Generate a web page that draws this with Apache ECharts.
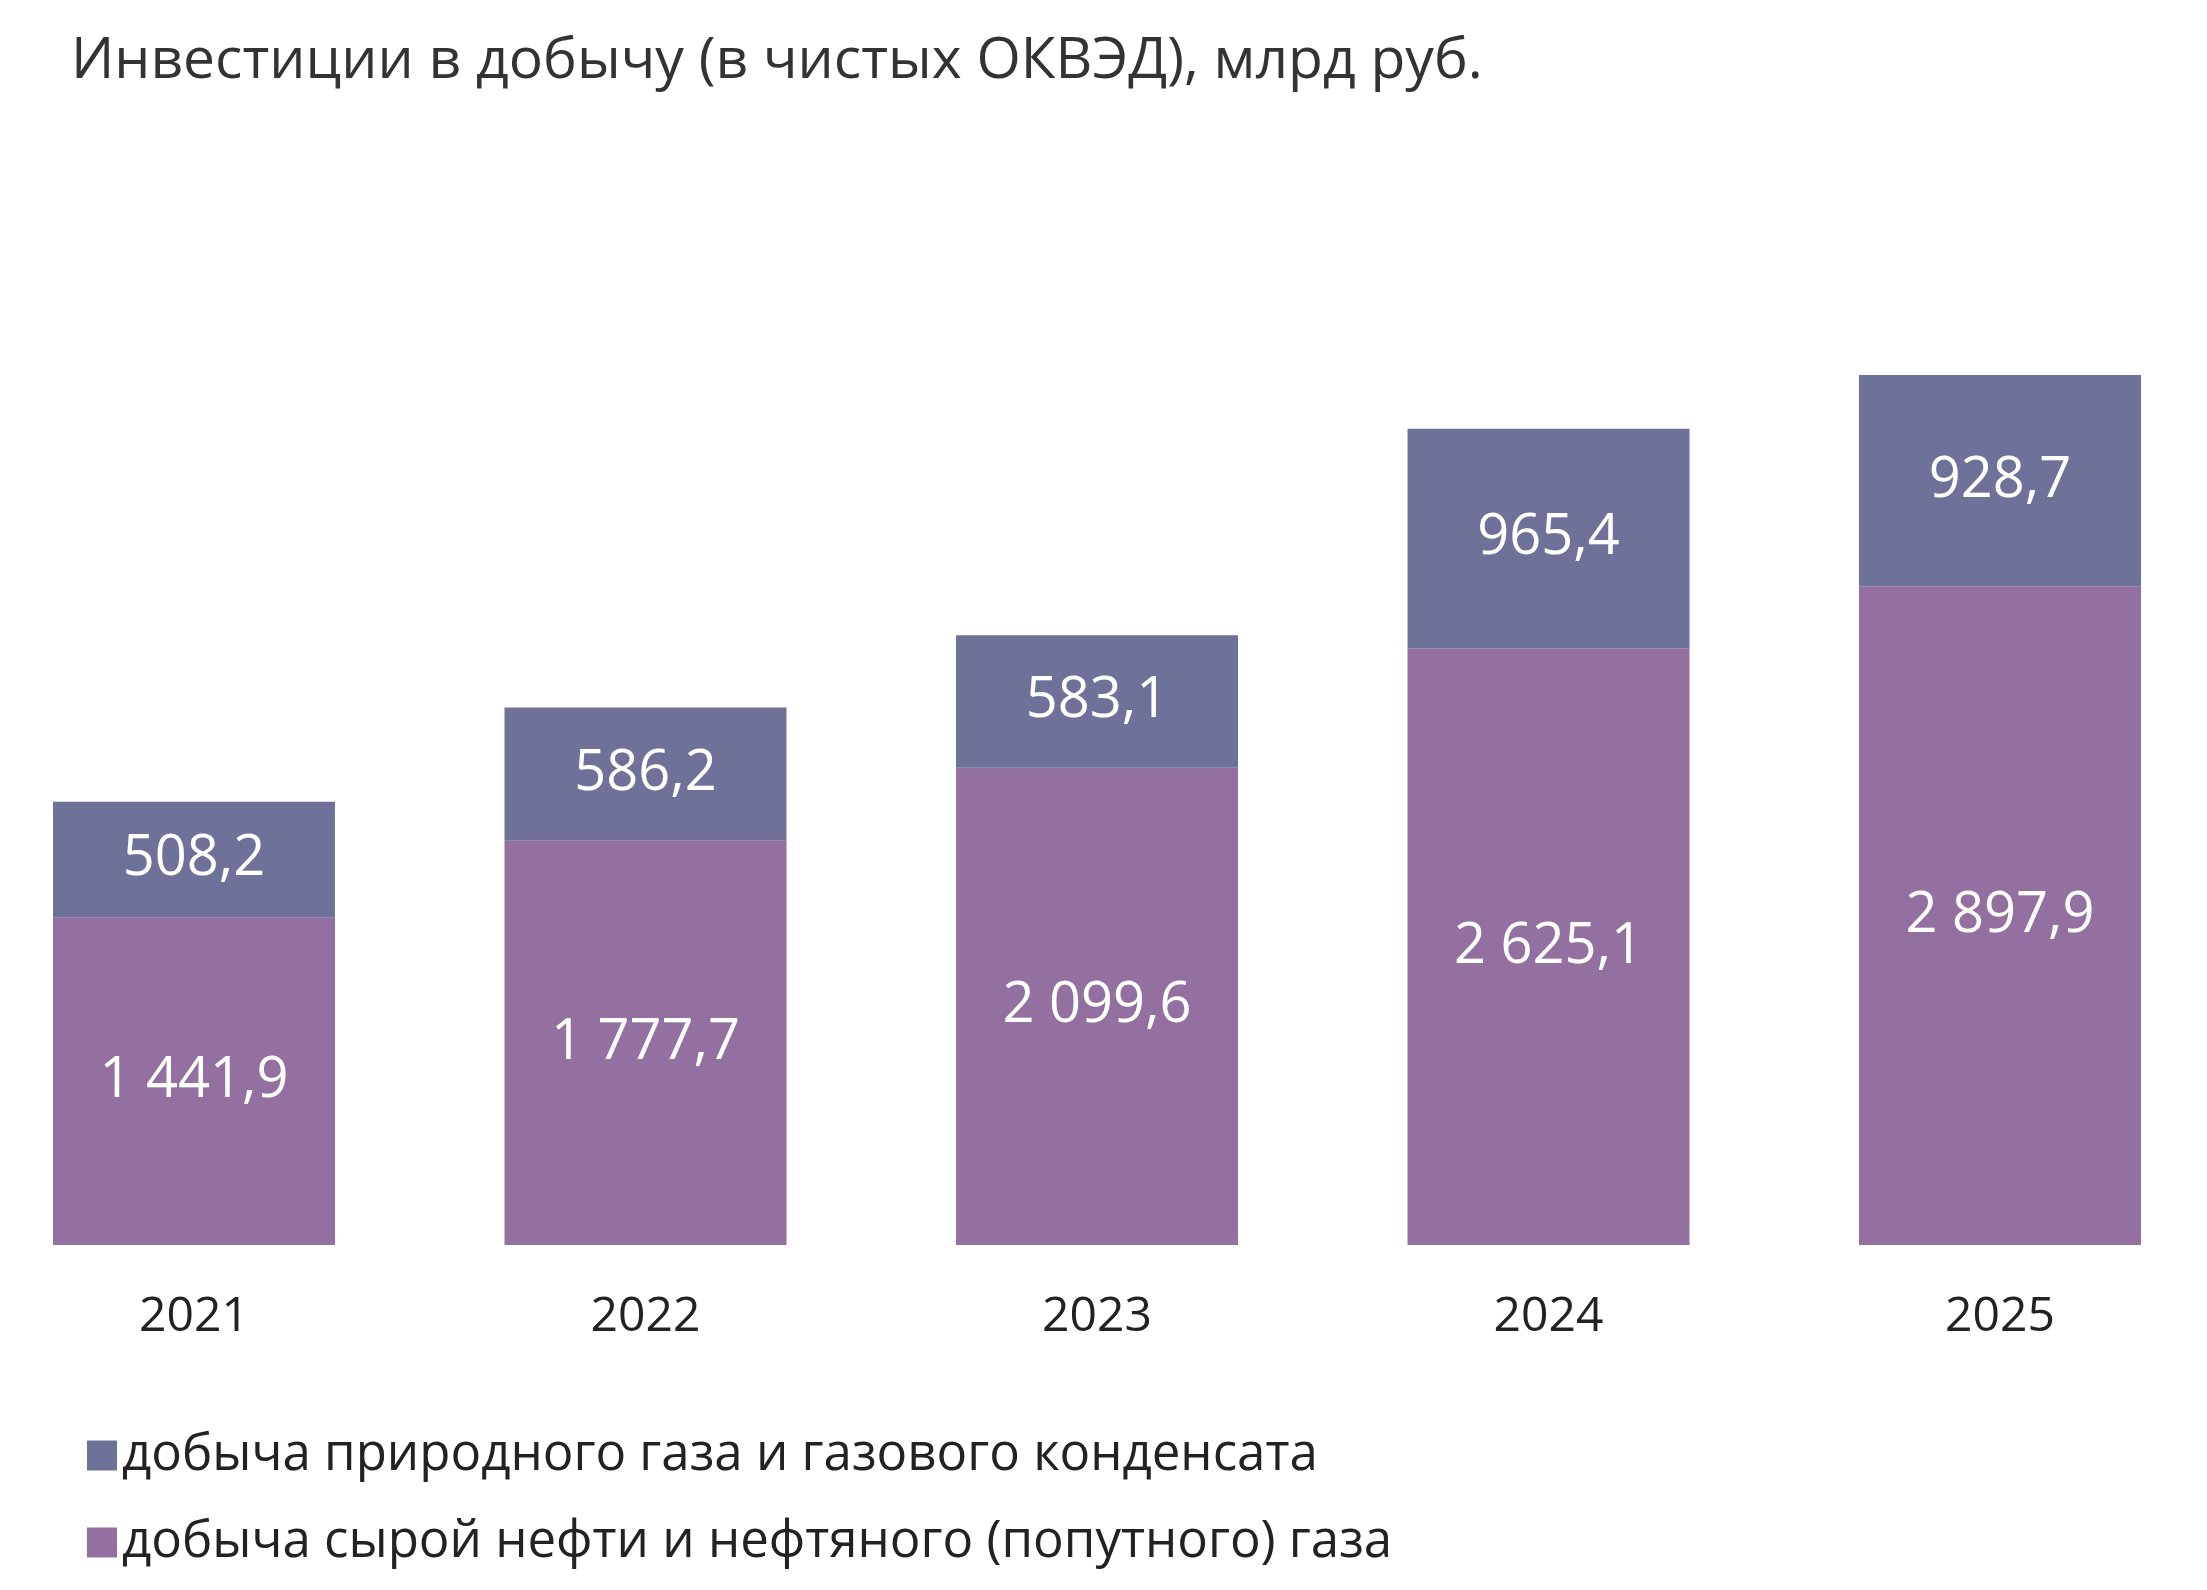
<!DOCTYPE html>
<html><head><meta charset="utf-8">
<script src="https://cdn.jsdelivr.net/npm/echarts@6/dist/echarts.min.js"></script>
<style>html,body{margin:0;background:#fff}#c{width:2207px;height:1590px}</style>
</head><body><div id="c"></div>
<script>
const years = ['2021','2022','2023','2024','2025'];
const oil = [1441.9, 1777.7, 2099.6, 2625.1, 2897.9];
const gas = [508.2, 586.2, 583.1, 965.4, 928.7];
const totals = [1950.2, 2363.9, 2682.7, 3590.6, 3826.7];
const fmt = v => { const [i,d] = v.toFixed(1).split('.'); return i.replace(/\B(?=(\d{3})+(?!\d))/g,' ') + ',' + d; };
const F = '"Open Sans", sans-serif';
const lbl = {show:true, position:'inside', color:'#fff', fontSize:56, fontFamily:F, formatter:p=>fmt(p.value)};
const chart = echarts.init(document.getElementById('c'));
chart.setOption({
  animation:false,
  title:{text:'Инвестиции в добычу (в чистых ОКВЭД), млрд руб.', left:66, top:28, textStyle:{fontSize:57, fontWeight:'normal', color:'#333', fontFamily:F}},
  legend:{orient:'vertical', left:82, top:1425, itemWidth:30, itemHeight:30, itemGap:36, icon:'rect',
    data:['добыча природного газа и газового конденсата','добыча сырой нефти и нефтяного (попутного) газа'],
    textStyle:{fontSize:51, color:'#222', fontFamily:F}},
  grid:{left:194, right:207, top:222, bottom:345},
  xAxis:{type:'category', data:years, boundaryGap:false, axisLine:{show:false}, axisTick:{show:false},
    axisLabel:{fontSize:48, color:'#222', margin:48, fontFamily:F}},
  yAxis:{type:'value', min:0, max:4500, show:false, splitLine:{show:false}},
  series:[
    {name:'добыча сырой нефти и нефтяного (попутного) газа', type:'bar', stack:'s', data:oil, barWidth:282, itemStyle:{color:'#9470a0'}, label:lbl},
    {name:'добыча природного газа и газового конденсата', type:'bar', stack:'s', data:gas, barWidth:282, itemStyle:{color:'#6f7298'}, label:lbl},
    {name:'total', type:'line', data:totals, symbol:'none', lineStyle:{opacity:0}, silent:true,
      label:{show:true, position:'top', distance:52, formatter:p=>fmt(p.value), fontSize:57, color:'#222', fontFamily:F,
        backgroundColor:'#fff', borderColor:'#25245a', borderWidth:4, width:306, height:117, lineHeight:117, align:'center'}}
  ]
});
</script></body></html>
